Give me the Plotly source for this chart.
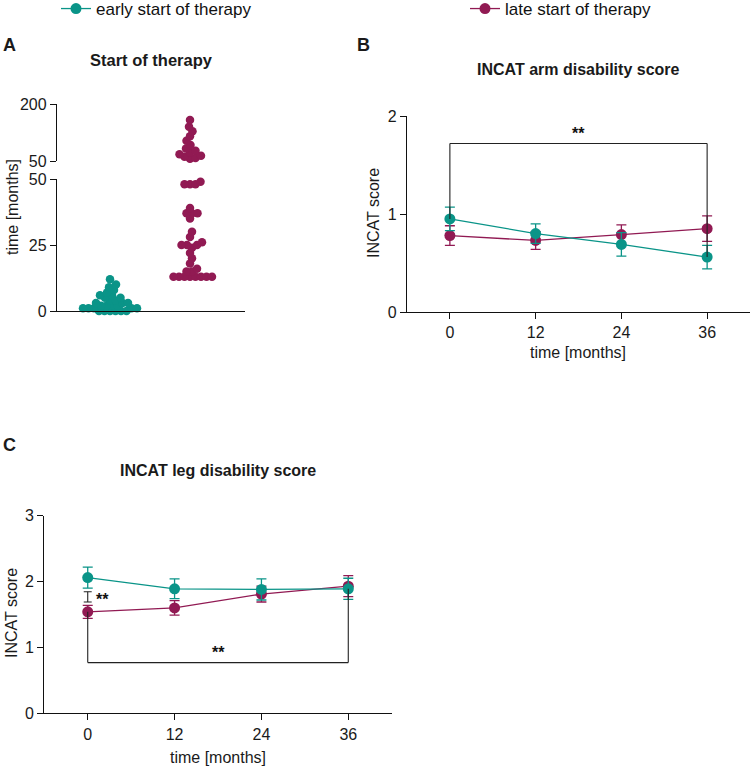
"""Start of therapy (A) and INCAT arm / leg disability scores (B, C), early vs late therapy start."""
import plotly.graph_objects as go

W, H = 750, 767
TEAL = "#0a9488"
PLUM = "#911a53"
FONT = "Arial, Liberation Sans, sans-serif"

# ------------------------------------------------------------------ data
early_months = [0, 0, 0, 0, 0, 0, 1, 1, 1, 1, 1, 2, 2, 2, 2, 3, 3, 3,
                4, 4, 5, 5, 6, 6, 7, 8, 9, 10, 12]
late_months = [13, 13, 13, 13, 13, 13, 13, 13, 15, 15, 16, 18, 20, 22, 24,
               25, 25, 25, 26, 28, 30, 35, 37, 37, 37, 39, 48, 48, 48, 49,
               56, 58, 61, 64, 68, 72, 77, 83, 92, 103, 115, 128, 140, 158]

visits = [0, 12, 24, 36]
arm_early = [0.95, 0.80, 0.69, 0.56]
arm_early_err = [0.12, 0.10, 0.12, 0.12]
arm_late = [0.78, 0.73, 0.79, 0.85]
arm_late_err = [0.10, 0.09, 0.10, 0.13]
leg_early = [2.06, 1.89, 1.88, 1.89]
leg_early_err = [0.16, 0.15, 0.16, 0.16]
leg_late = [1.54, 1.60, 1.81, 1.93]
leg_late_err = [0.10, 0.11, 0.12, 0.16]

BREAK = 50  # y-axis break in panel A


def px(x):
    return x / W


def py(y):
    return 1 - y / H


def swarm(values, unit_px, min_dist=5.5, step=0.5):
    """Simple beeswarm: horizontal offsets (px) so dots don't fully overlap."""
    placed, offs = [], []
    cands = [0.0]
    for k in range(1, 120):
        cands += [k * step, -k * step]
    for v in values:
        yv = v * unit_px
        for c in cands:
            if all((c - a) ** 2 + (yv - b) ** 2 >= min_dist ** 2 for a, b in placed):
                break
        placed.append((c, yv))
        offs.append(c)
    return offs


fig = go.Figure()

# ------------------------------------------------------------ A. swarm
X_PX = 80  # px per category unit on panel A
lo_px, hi_px = 132 / 50, 57 / 150
for gi, vals, col in ((0, early_months, TEAL), (1, late_months, PLUM)):
    vals = sorted(vals)
    low = [v for v in vals if v <= BREAK]
    high = [v for v in vals if v > BREAK]
    for seg, unit, yax in ((low, lo_px, "y"), (high, hi_px, "y2")):
        if not seg:
            continue
        offs = swarm([v - (BREAK if yax == "y2" else 0) for v in seg], unit)
        fig.add_trace(go.Scatter(
            x=[gi + o / X_PX for o in offs], y=seg, xaxis="x", yaxis=yax,
            mode="markers", marker=dict(size=8.5, color=col, line_width=0),
            cliponaxis=False, showlegend=False, hoverinfo="y"))


# ------------------------------------------------------------ B, C. lines
def series(x, y, err, col, xa, ya, name=None, legend=None):
    fig.add_trace(go.Scatter(
        x=x, y=y, xaxis=xa, yaxis=ya, mode="lines+markers", name=name,
        line=dict(color=col, width=1.3), marker=dict(size=11, color=col),
        error_y=dict(type="data", array=err, color=col, thickness=1.3, width=5),
        cliponaxis=False, showlegend=name is not None, legend=legend))


series(visits, arm_late, arm_late_err, PLUM, "x2", "y3", "late start of therapy", "legend2")
series(visits, arm_early, arm_early_err, TEAL, "x2", "y3", "early start of therapy", "legend")
series(visits, leg_late, leg_late_err, PLUM, "x3", "y4")
series(visits, leg_early, leg_early_err, TEAL, "x3", "y4")

# significance brackets
BR = dict(color="#222222", width=1.1)
arm_bar = 1.72
fig.add_shape(type="line", xref="x2", yref="y3", x0=visits[0], x1=visits[0],
              y0=arm_early[0], y1=arm_bar, line=BR)
fig.add_shape(type="line", xref="x2", yref="y3", x0=visits[0], x1=visits[-1],
              y0=arm_bar, y1=arm_bar, line=BR)
fig.add_shape(type="line", xref="x2", yref="y3", x0=visits[-1], x1=visits[-1],
              y0=arm_bar, y1=arm_early[-1], line=BR)
leg_bar = 0.77
fig.add_shape(type="line", xref="x3", yref="y4", x0=visits[0], x1=visits[0],
              y0=leg_late[0], y1=leg_bar, line=BR)
fig.add_shape(type="line", xref="x3", yref="y4", x0=visits[0], x1=visits[-1],
              y0=leg_bar, y1=leg_bar, line=BR)
fig.add_shape(type="line", xref="x3", yref="y4", x0=visits[-1], x1=visits[-1],
              y0=leg_bar, y1=leg_early[-1], line=BR)
# small bracket between groups at baseline
sb_lo, sb_hi = 1.69, 1.845
fig.add_shape(type="line", xref="x3", yref="y4", x0=0, x1=0, y0=sb_lo, y1=sb_hi, line=BR)
for yy in (sb_lo, sb_hi):
    fig.add_shape(type="line", xref="x3", yref="y4", x0=-0.55, x1=0.55, y0=yy, y1=yy, line=BR)

stars = dict(text="<b>**</b>", showarrow=False, font=dict(size=16, color="#111111"))
fig.add_annotation(x=18, y=arm_bar, xref="x2", yref="y3", yshift=10, **stars)
fig.add_annotation(x=18, y=leg_bar, xref="x3", yref="y4", yshift=10, **stars)
fig.add_annotation(x=0.8, y=(sb_lo + sb_hi) / 2, xref="x3", yref="y4", xanchor="left",
                   yshift=-3, **stars)

# ------------------------------------------------------------ text
TXT = dict(showarrow=False, xref="paper", yref="paper", xanchor="center", yanchor="middle",
           font=dict(size=16, color="#1a1a1a"))
for lab, x, y in (("A", 1, 45), ("B", 355, 45), ("C", 1, 445)):
    fig.add_annotation(text=f"<b>{lab}</b>", x=px(x), y=py(y),
                       **{**TXT, "xanchor": "left", "font": dict(size=18, color="#1a1a1a")})
for t, x, y, s in (("Start of therapy", 151, 60, 16.5), ("INCAT arm disability score", 578, 70, 16),
                   ("INCAT leg disability score", 218, 470, 16)):
    fig.add_annotation(text=f"<b>{t}</b>", x=px(x), y=py(y),
                       **{**TXT, "font": dict(size=s, color="#1a1a1a")})
for t, x, y, ang in (("time [months]", 13, 207, -90), ("INCAT score", 373, 213, -90),
                     ("INCAT score", 11, 613, -90), ("time [months]", 578, 352, 0),
                     ("time [months]", 218, 757, 0)):
    fig.add_annotation(text=t, x=px(x), y=py(y), textangle=ang, **TXT)

# ------------------------------------------------------------ axes
AX = dict(showline=True, linecolor="#111111", linewidth=1.3, showgrid=False, zeroline=False,
          ticks="outside", ticklen=6, tickwidth=1.3, tickcolor="#111111",
          tickfont=dict(size=16, color="#1a1a1a"), automargin=False, fixedrange=True)
fig.update_layout(
    xaxis=dict(AX, domain=[px(57), px(245)], range=[-0.6625, 1.6875], anchor="y",
               ticks="", showticklabels=False),
    yaxis=dict(AX, domain=[py(311), py(179)], range=[0, BREAK], tickvals=[0, 25, 50], anchor="x"),
    yaxis2=dict(AX, domain=[py(161), py(104)], range=[BREAK, 200], tickvals=[50, 200], anchor="x"),
    xaxis2=dict(AX, domain=[px(407), 1], range=[-6, 42], tickvals=visits, anchor="y3"),
    yaxis3=dict(AX, domain=[py(312), py(116)], range=[0, 2], tickvals=[0, 1, 2], anchor="x2"),
    xaxis3=dict(AX, domain=[px(44.3), px(391.7)], range=[-6, 42], tickvals=visits, anchor="y4"),
    yaxis4=dict(AX, domain=[py(713.3), py(515.7)], range=[0, 3], tickvals=[0, 1, 2, 3], anchor="x3"),
    legend=dict(x=px(56), y=py(9), xanchor="left", yanchor="middle", bgcolor="rgba(0,0,0,0)",
                font=dict(size=17, color="#111111")),
    legend2=dict(x=px(465), y=py(9), xanchor="left", yanchor="middle", bgcolor="rgba(0,0,0,0)",
                 font=dict(size=17, color="#111111")),
    width=W, height=H, margin=dict(l=0, r=0, t=0, b=0, autoexpand=False),
    paper_bgcolor="white", plot_bgcolor="white", font=dict(family=FONT),
)

# the page's default 8px body margin would push the figure off the window
fig.write_html("out.html", config={"displayModeBar": False},
               post_script="document.body.style.margin='0';")
